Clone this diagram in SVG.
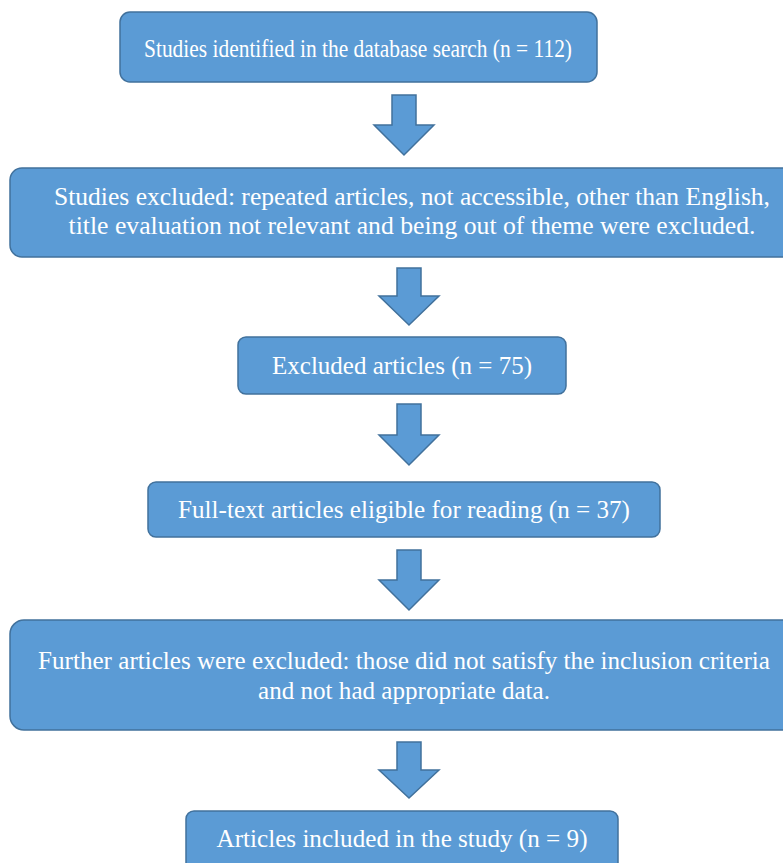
<svg xmlns="http://www.w3.org/2000/svg" width="783" height="863" viewBox="0 0 783 863">
<style>
.box{fill:#5B9BD5;stroke:#41719C;stroke-width:1.5}
.arr{fill:#5B9BD5;stroke:#41719C;stroke-width:1.5;stroke-linejoin:miter}
text{font-family:"Liberation Serif","Times New Roman",serif;fill:#ffffff;font-size:26px;text-anchor:middle}
</style>
<rect width="783" height="863" fill="#ffffff"/>
<g id="connectors">
<polygon class="arr" points="392,95 416,95 416,125 434,125 404,155 374,125 392,125"/>
<polygon class="arr" points="397,268 421,268 421,296 439,296 409,325 379,296 397,296"/>
<polygon class="arr" points="397,404 421,404 421,435 439,435 409,465 379,435 397,435"/>
<polygon class="arr" points="397,550 421,550 421,580 439,580 409,610 379,580 397,580"/>
<polygon class="arr" points="397,742 421,742 421,770 439,770 409,798 379,770 397,770"/>
</g>
<g id="n1">
<rect class="box" x="120" y="12" width="477" height="70" rx="10"/>
<text x="358" y="57" textLength="428" lengthAdjust="spacingAndGlyphs">Studies identified in the database search (n = 112)</text>
</g>
<g id="n2">
<path class="box" d="M783,168 H22 A12,12 0 0 0 10,180 V245 A12,12 0 0 0 22,257 H783"/>
<text x="412" y="205" textLength="716" lengthAdjust="spacingAndGlyphs">Studies excluded: repeated articles, not accessible, other than English,</text>
<text x="412" y="234" textLength="687" lengthAdjust="spacingAndGlyphs">title evaluation not relevant and being out of theme were excluded.</text>
</g>
<g id="n3">
<rect class="box" x="238" y="337" width="328" height="57" rx="8"/>
<text x="402" y="374" textLength="260" lengthAdjust="spacingAndGlyphs">Excluded articles (n = 75)</text>
</g>
<g id="n4">
<rect class="box" x="148" y="482" width="512" height="55" rx="8"/>
<text x="404" y="518" textLength="452" lengthAdjust="spacingAndGlyphs">Full-text articles eligible for reading (n = 37)</text>
</g>
<g id="n5">
<path class="box" d="M783,620 H24 A14,14 0 0 0 10,634 V716 A14,14 0 0 0 24,730 H783"/>
<text transform="translate(404,669) scale(0.85,1)" x="0" y="0" textLength="861" lengthAdjust="spacingAndGlyphs">Further articles were excluded: those did not satisfy the inclusion criteria</text>
<text x="404" y="699" textLength="292" lengthAdjust="spacingAndGlyphs">and not had appropriate data.</text>
</g>
<g id="n6">
<path class="box" d="M186,863 V819 A8,8 0 0 1 194,811 H610 A8,8 0 0 1 618,819 V863"/>
<text x="402" y="847" textLength="371" lengthAdjust="spacingAndGlyphs">Articles included in the study (n = 9)</text>
</g>
</svg>
